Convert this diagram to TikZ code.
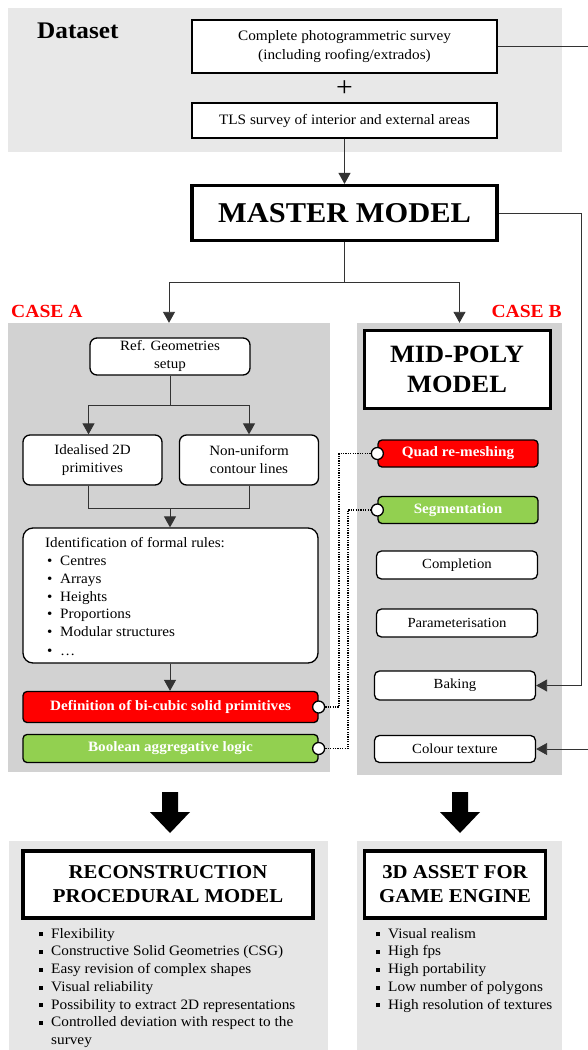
\documentclass[tikz,border=0pt]{standalone}
\usepackage{fontspec}
\setmainfont[FakeStretch=1.06]{Liberation Serif}
\usetikzlibrary{arrows.meta,calc}
\newcommand{\fsz}[2]{\fontsize{#1}{#2}\selectfont}
\definecolor{bandgray}{RGB}{232,232,232}
\definecolor{panelgray}{RGB}{210,210,210}
\definecolor{botgray}{RGB}{230,230,230}
\definecolor{myred}{RGB}{255,0,0}
\definecolor{mygreen}{RGB}{146,208,80}
\newcommand{\sqb}{\makebox[12pt][l]{\raisebox{1.8pt}{\rule{4pt}{4pt}}}}
\newcommand{\rb}{\makebox[15pt][l]{\hspace{2pt}\textbullet}}
\begin{document}
\begin{tikzpicture}[x=1pt,y=-1pt,
  bg/.style={fill=#1, draw=none, inner sep=0pt},
  sqbox/.style={draw, fill=white, line width=1.3pt, align=center, inner sep=0pt, font=\fsz{14.4}{19}},
  heavy/.style={draw, fill=white, line width=3.2pt, align=center, inner sep=0pt, font=\bfseries\fsz{28.7}{30}},
  rbox/.style={draw, fill=white, line width=1.3pt, rounded corners=7pt, align=center, inner sep=0pt, font=\fsz{14.2}{18}},
  sbox/.style={draw, fill=white, line width=1.3pt, rounded corners=5pt, align=center, inner sep=0pt, font=\fsz{13.9}{16}},
  colbox/.style={draw, fill=#1, line width=1.3pt, rounded corners=4pt, align=center, inner sep=0pt, text=white, font=\bfseries\fsz{14.3}{16}},
  circ/.style={circle, draw, fill=white, line width=1.3pt, minimum size=12pt, inner sep=0pt},
  arr/.style={line width=0.9pt, draw=black!80, -{Triangle[width=12pt,length=11pt]}},
  conn/.style={line width=0.9pt, draw=black!80},
  dots/.style={line width=1.4pt, dash pattern=on 1.2pt off 1.2pt},
  casel/.style={text=myred, font=\bfseries\fsz{18.5}{20}, inner sep=0pt},
  blk/.style={fill=black}
]
\useasboundingbox (0,0) rectangle (587,1050);
\fill[white] (0,0) rectangle (587,1050);

% background panels
\node[bg=bandgray, minimum width=554pt, minimum height=144pt] (band) at (285,80) {};
\node[bg=panelgray, minimum width=322pt, minimum height=449pt] (panelA) at (169,547.5) {};
\node[bg=panelgray, minimum width=205pt, minimum height=452pt] (panelB) at (459.5,549) {};
\node[bg=botgray, minimum width=319pt, minimum height=209pt] (botA) at (168.5,945.5) {};
\node[bg=botgray, minimum width=205pt, minimum height=209pt] (botB) at (459.5,945.5) {};

% Dataset
\node[font=\bfseries\fsz{23.8}{26}, anchor=west, inner sep=0pt] (ds) at (37,31) {Dataset};
\node[sqbox, minimum width=305pt, minimum height=53pt] (b1) at (344.5,46.5)
  {Complete photogrammetric survey\\(including roofing/extrados)};
\node[font=\fsz{28}{28}, inner sep=0pt] (plus) at (344.5,89) {+};
\node[sqbox, minimum width=305pt, minimum height=35pt] (b2) at (344.5,120.5)
  {TLS survey of interior and external areas};

% Master
\node[heavy, minimum width=305pt, minimum height=55pt] (master) at (344.5,213) {MASTER MODEL};
\draw[arr] (b2.south) -- (master.north);

% case labels
\node[casel, anchor=west] (caseA) at (11,311) {CASE A};
\node[casel, anchor=east] (caseB) at (562,311) {CASE B};

\coordinate (split) at (344.5,282);
\draw[conn] (master.south) -- (split);
\draw[arr] (split) -| (panelA.north);
\draw[arr] (split) -| (panelB.north);

% Case A
\node[rbox, minimum width=160pt, minimum height=37pt] (ref) at (170,356.5) {Ref. Geometries\\setup};
\node[rbox, minimum width=139pt, minimum height=50pt] (ideal) at (92.5,460) {Idealised 2D\\primitives};
\node[rbox, minimum width=139pt, minimum height=50pt] (nonu) at (249,460) {Non-uniform\\contour lines};
\coordinate (fork1) at (170,405);
\draw[conn] (ref.south) -- (fork1);
\draw[arr] (fork1) -| ([xshift=-4pt]ideal.north);
\draw[arr] (fork1) -| (nonu.north);

\node[rbox, rounded corners=10pt, minimum width=295pt, minimum height=135pt] (ident) at (170.5,595.5) {};
\node[anchor=north west, inner sep=0pt, align=left, font=\fsz{14.3}{17.6}] (identtxt) at (45,537)
  {Identification of formal rules:\\[1pt]
   \rb Centres\\ \rb Arrays\\ \rb Heights\\ \rb Proportions\\ \rb Modular structures\\[2pt] \rb \dots};
\coordinate (join1) at (170,508);
\draw[conn] ([xshift=-4pt]ideal.south) |- (join1);
\draw[conn] (nonu.south) |- (join1);
\draw[arr] (join1) -- (join1 |- ident.north);

\node[colbox=myred, minimum width=295pt, minimum height=31pt] (def) at (170.5,707)
  {Definition of bi-cubic solid primitives};
\node[colbox=mygreen, minimum width=295pt, minimum height=28pt] (bool) at (170.5,748.5)
  {Boolean aggregative logic};
\draw[arr] (ident.south -| join1) -- (join1 |- def.north);

% Case B
\node[heavy, line width=3pt, minimum width=186pt, minimum height=78pt, font=\bfseries\fsz{24.9}{30}] (mid) at (457,369) {MID-POLY\\MODEL};
\node[colbox=myred, minimum width=160pt, minimum height=27pt] (quad) at (458,453.5) {Quad re-meshing};
\node[colbox=mygreen, minimum width=160pt, minimum height=27pt] (seg) at (458,510) {Segmentation};
\node[sbox, minimum width=161pt, minimum height=28pt] (compl) at (457,565) {Completion};
\node[sbox, minimum width=161pt, minimum height=28pt] (param) at (457,623) {Parameterisation};
\node[sbox, minimum width=161pt, minimum height=29pt] (bake) at (455,685.5) {Baking};
\node[sbox, minimum width=161pt, minimum height=27pt] (colour) at (455,749) {Colour texture};

% circles
\node[circ] (c1) at (def.east) {};
\node[circ] (c2) at (bool.east) {};
\node[circ] (c3) at (quad.west) {};
\node[circ] (c4) at (seg.west) {};
\coordinate (dx1) at (339,0);
\coordinate (dx2) at (348,0);
\draw[dots] (c1.east) -| (dx1 |- c3.west) -- (c3.west);
\draw[dots] (c2.east) -| (dx2 |- c4.west) -- (c4.west);

% right feeders
\coordinate (rx1) at (581.5,0);
\coordinate (rx2) at (588,0);
\draw[arr] (master.east) -| (rx1 |- bake.east) -- (bake.east);
\draw[arr] (b1.east) -| (rx2 |- colour.east) -- (colour.east);

% big arrows
\fill[blk] (162,792) -- (178,792) -- (178,812) -- (190,812) -- (170,833) -- (150,812) -- (162,812) -- cycle;
\fill[blk] (452,792) -- (468,792) -- (468,812) -- (480,812) -- (460,833) -- (440,812) -- (452,812) -- cycle;

% bottom boxes
\node[heavy, line width=3.5pt, minimum width=290pt, minimum height=67pt, font=\bfseries\fsz{19.6}{24}] (recon) at (168,884.5)
  {RECONSTRUCTION\\PROCEDURAL MODEL};
\node[heavy, line width=3.5pt, minimum width=181pt, minimum height=67pt, font=\bfseries\fsz{19.6}{24}] (asset) at (455,884.5)
  {3D ASSET FOR\\GAME ENGINE};

\node[anchor=north west, inner sep=0pt, align=left, font=\fsz{14.4}{17.7}] (listA) at (39,928)
  {\sqb Flexibility\\
   \sqb Constructive Solid Geometries (CSG)\\
   \sqb Easy revision of complex shapes\\
   \sqb Visual reliability\\
   \sqb Possibility to extract 2D representations\\
   \sqb Controlled deviation with respect to the\\
   \hspace*{12pt}survey};
\node[anchor=north west, inner sep=0pt, align=left, font=\fsz{14.4}{17.7}] (listB) at (376,928)
  {\sqb Visual realism\\
   \sqb High fps\\
   \sqb High portability\\
   \sqb Low number of polygons\\
   \sqb High resolution of textures};
\end{tikzpicture}
\end{document}
